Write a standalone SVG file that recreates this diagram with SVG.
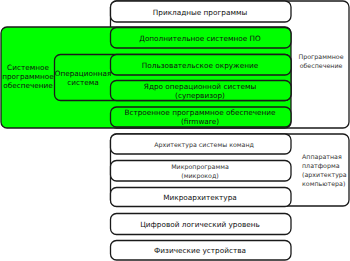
<svg xmlns="http://www.w3.org/2000/svg" width="350" height="261" viewBox="0 0 350 261">
<style>
.b{fill:#fff;stroke:#1a1a1a;stroke-width:1.3}
.g{fill:#00ff00;stroke:#1a1a1a;stroke-width:1.3}
text{font-family:"DejaVu Sans",sans-serif;text-anchor:middle}
.t{font-size:7.3px;fill:#111}
.s{font-size:6.3px;fill:#333}
.l{text-anchor:start}
</style>
<rect width="350" height="261" fill="#fff"/>
<g id="software">
<rect class="b" x="110.5" y="1" width="238.5" height="127" rx="6"/>
<text class="s" x="321" y="59">Программное</text>
<text class="s" x="321" y="68">обеспечение</text>
</g>
<g id="system-software">
<rect class="g" x="1" y="27" width="290" height="101" rx="6"/>
<text class="t" x="28" y="70">Системное</text>
<text class="t" x="28" y="79">программное</text>
<text class="t" x="28" y="88">обеспечение</text>
</g>
<g id="os">
<rect class="g" x="54.5" y="54.5" width="236.5" height="46" rx="6"/>
<text class="t" x="83" y="76">Операционная</text>
<text class="t" x="83" y="85">система</text>
</g>
<g id="applications">
<rect class="b" x="110.5" y="1" width="180.5" height="21" rx="6"/>
<text class="t" x="200" y="14.5">Прикладные программы</text>
</g>
<g id="extra-system">
<rect class="g" x="110.5" y="27.5" width="180.5" height="20.5" rx="6"/>
<text class="t" x="200" y="40.5">Дополнительное системное ПО</text>
</g>
<g id="user-env">
<rect class="g" x="110.5" y="54.5" width="180.5" height="20.5" rx="6"/>
<text class="t" x="200" y="67.5">Пользовательское окружение</text>
</g>
<g id="kernel">
<rect class="g" x="110.5" y="80.5" width="180.5" height="20" rx="6"/>
<text class="t" x="200" y="89">Ядро операционной системы</text>
<text class="t" x="200" y="98">(супервизор)</text>
</g>
<g id="firmware">
<rect class="g" x="110.5" y="107" width="180.5" height="20" rx="6"/>
<text class="t" x="200" y="115">Встроенное программное обеспечение</text>
<text class="t" x="200" y="124">(firmware)</text>
</g>
<g id="hardware">
<rect class="b" x="110.5" y="134" width="238.5" height="72" rx="6"/>
<text class="s l" x="302" y="159">Аппаратная</text>
<text class="s l" x="302" y="168">платформа</text>
<text class="s l" x="302" y="177">(архитектура</text>
<text class="s l" x="302" y="186">компьютера)</text>
</g>
<g id="isa">
<rect class="b" x="110.5" y="134" width="180.5" height="20" rx="6"/>
<text class="s" x="204" y="146.5">Архитектура системы команд</text>
</g>
<g id="microprogram">
<rect class="b" x="110.5" y="160.5" width="180.5" height="20.5" rx="6"/>
<text class="s" x="200" y="169">Микропрограмма</text>
<text class="s" x="200" y="177.5">(микрокод)</text>
</g>
<g id="microarch">
<rect class="b" x="110.5" y="187.5" width="180.5" height="19" rx="6"/>
<text class="t" x="200" y="199.5">Микроархитектура</text>
</g>
<g id="digital-logic">
<rect class="b" x="110.5" y="213.5" width="180.5" height="21" rx="6"/>
<text class="t" x="200" y="226.5">Цифровой логический уровень</text>
</g>
<g id="physical">
<rect class="b" x="110.5" y="240.5" width="180.5" height="19.5" rx="6"/>
<text class="t" x="200" y="253">Физические устройства</text>
</g>
<g id="connectors"></g>
</svg>
